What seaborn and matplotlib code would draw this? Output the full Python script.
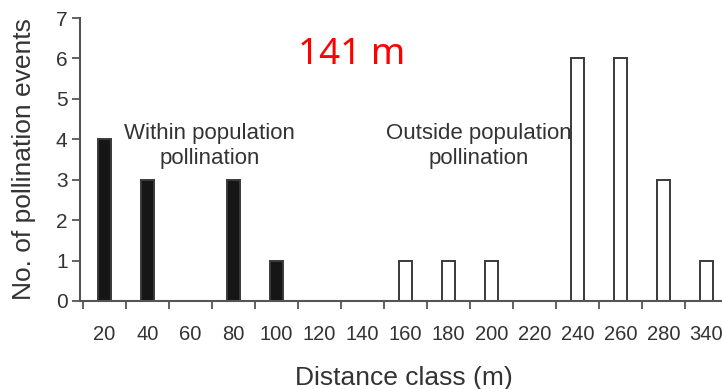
import matplotlib
matplotlib.use("Agg")
import matplotlib.pyplot as plt
import seaborn as sns
import pandas as pd
import numpy as np

# Distance classes (m) shown on the x axis
distance_classes = ["20", "40", "60", "80", "100", "120", "140", "160",
                    "180", "200", "220", "240", "260", "280", "340"]

# Pollination events per distance class
within_classes = ["20", "40", "80", "100"]
within_events = [4, 3, 3, 1]
outside_classes = ["160", "180", "200", "240", "260", "280", "340"]
outside_events = [1, 1, 1, 6, 6, 3, 1]

df = pd.DataFrame({
    "distance": within_classes + outside_classes,
    "events": within_events + outside_events,
    "group": ["within"] * len(within_classes) + ["outside"] * len(outside_classes),
})

sns.set_theme(style="ticks")
plt.rcParams["font.family"] = ["Liberation Sans", "DejaVu Sans"]

ink = "#333333"
fig = plt.figure(figsize=(7.22, 3.89), dpi=100)
ax = fig.add_axes([80 / 722, 88 / 389, (728 - 80) / 722, (301 - 18) / 389])

sns.barplot(data=df, x="distance", y="events", hue="group", order=distance_classes,
            palette={"within": "#161616", "outside": "white"}, dodge=False,
            width=0.28, edgecolor="#3a3a3a", linewidth=1.4, legend=False, ax=ax)

ax.set_xlim(-0.57, len(distance_classes) - 0.5)
ax.set_ylim(0, 7)
ax.set_yticks(range(0, 8))

# labels centred under the bars, tick marks at the class boundaries
ax.set_xticks(np.arange(len(distance_classes)))
ax.set_xticklabels(distance_classes)
ax.set_xticks(np.arange(len(distance_classes) + 1) - 0.5, minor=True)
ax.tick_params(axis="x", which="major", length=0, pad=17, labelsize=14.5, colors=ink)
ax.tick_params(axis="x", which="minor", length=6, width=1.3, color="#555555", direction="out")
ax.tick_params(axis="y", length=6, width=1.3, color="#555555", labelsize=15,
               labelcolor=ink, pad=3)

for side in ("top", "right"):
    ax.spines[side].set_visible(False)
for side in ("left", "bottom"):
    ax.spines[side].set_color("#555555")
    ax.spines[side].set_linewidth(1.5)

ax.set_xlabel("Distance class (m)", fontsize=19, color=ink, labelpad=16)
ax.set_ylabel("No. of pollination events", fontsize=19, color=ink, labelpad=14)

ax.text(2.45, 3.83, "Within population\npollination", ha="center", va="center",
        fontsize=16, color=ink, linespacing=1.25)
ax.text(8.7, 3.83, "Outside population\npollination", ha="center", va="center",
        fontsize=16, color=ink, linespacing=1.25)

fig.text(352 / 722, 1 - 55 / 389, "141 m", ha="center", va="center",
         fontsize=26.5, color="#ff0000", family=["Noto Sans", "DejaVu Sans"])

fig.savefig("out.png", dpi=100)
